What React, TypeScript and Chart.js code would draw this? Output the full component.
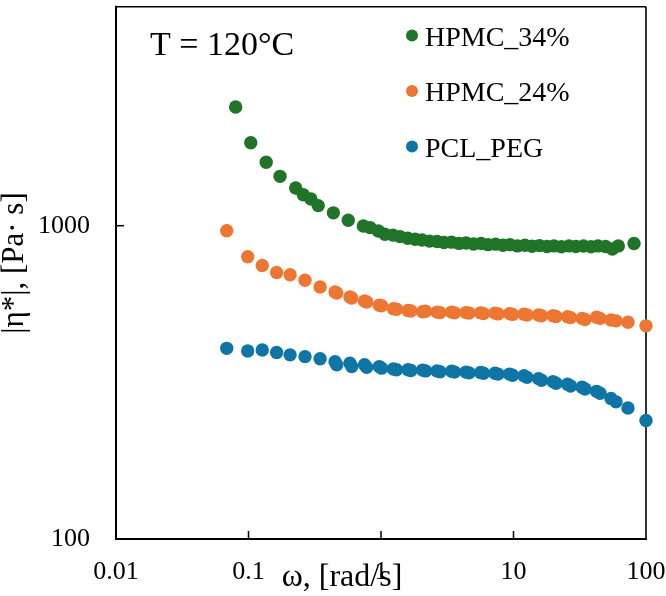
import { useEffect, useRef } from 'react';
import { Chart, registerables } from 'chart.js';

Chart.register(...registerables);

// Complex viscosity sweeps at 120 °C
const omegaHPMC34 = [
  0.080, 0.104, 0.136, 0.173, 0.227, 0.259, 0.296, 0.336, 0.437, 0.566, 0.736, 0.826,
  0.954, 1.07, 1.23, 1.39, 1.59, 1.81, 2.04, 2.32, 2.65, 2.99, 3.41, 3.88, 4.38, 4.99,
  5.69, 6.42, 7.32, 8.33, 9.41, 10.7, 12.2, 13.8, 15.7, 17.9, 20.2, 23.0, 26.2, 29.6,
  33.8, 38.5, 43.4, 49.5, 55.7, 61.8, 81.2,
];
const etaHPMC34 = [
  2392, 1840, 1594, 1437, 1319, 1256, 1217, 1159, 1099, 1041, 998, 986,
  962, 939, 933, 923, 912, 905, 900, 893, 890, 884, 886, 878, 881, 874,
  878, 870, 873, 866, 870, 862, 866, 860, 864, 858, 862, 857, 862, 858,
  861, 857, 862, 858, 843, 862, 877,
];

const omegaCommon = [
  0.0685, 0.0986, 0.127, 0.163, 0.206, 0.267, 0.347, 0.450, 0.463, 0.583, 0.601, 0.751,
  0.780, 0.971, 1.01, 1.24, 1.31, 1.60, 1.68, 2.06, 2.17, 2.65, 2.79, 3.41, 3.59, 4.38,
  4.62, 5.64, 5.94, 7.25, 7.64, 9.33, 9.83, 12.0, 12.65, 15.45, 16.27, 19.87, 20.93,
  25.56, 26.93, 32.89, 34.64, 42.3, 44.96, 54.4, 59.37, 73.1, 100,
];
const etaHPMC24 = [
  964, 796, 746, 709, 697, 670, 637, 614, 610, 592, 588, 575,
  571, 557, 555, 543, 541, 536, 534, 531, 533, 530, 528, 530, 527, 528,
  526, 527, 524, 526, 523, 524, 521, 522, 519, 519, 516, 516, 513,
  512, 509, 506, 502, 510, 506, 500, 497, 492, 479,
];
const etaPCLPEG = [
  406, 398, 401, 394, 387, 382, 376, 368, 360, 364, 355, 360,
  353, 355, 351, 349, 347, 347, 345, 346, 344, 344, 342, 343, 341, 341,
  339, 340, 338, 338, 336, 336, 333, 332, 328, 325, 321, 318, 314,
  312, 308, 305, 301, 296, 292, 281, 274, 262, 239,
];

const seriesNames = ['HPMC_34%', 'HPMC_24%', 'PCL_PEG'];
const seriesColors = ['#1f7428', '#ed7632', '#0f75a5'];

const xMajorTicks = [0.01, 0.1, 1, 10, 100];
const xTickLabels = ['0.01', '0.1', '1', '10', '100'];
const yMajorTicks = [100, 1000];
const yTickLabels = ['100', '1000'];

const xAxisTitle = 'ω, [rad/s]';
const yAxisTitle = '|η*|, [Pa· s]';
const annotation = 'T = 120°C';

const SERIF = "'Liberation Serif', 'Times New Roman', serif";

const majorIndex = (v: number, majors: number[]) =>
  majors.findIndex((m) => Math.abs(v - m) / m < 1e-6);

const toPoints = (xs: number[], ys: number[]) => xs.map((x, i) => ({ x, y: ys[i] }));

// Frame with inward tick marks on the left and bottom axes
const framePlugin = {
  id: 'frameTicks',
  beforeDatasetsDraw(chart: any) {
    const { ctx, chartArea: a, scales } = chart;
    ctx.save();
    ctx.strokeStyle = '#000';
    ctx.lineCap = 'butt';
    const seg = (x1: number, y1: number, x2: number, y2: number) => {
      ctx.beginPath();
      ctx.moveTo(x1, y1);
      ctx.lineTo(x2, y2);
      ctx.stroke();
    };
    ctx.lineWidth = 1.5;
    const xs = scales.x;
    for (const t of xs.ticks) {
      const px = xs.getPixelForValue(t.value);
      if (px <= a.left + 1 || px >= a.right - 1) continue;
      const len = majorIndex(t.value, xMajorTicks) >= 0 ? 8 : 6;
      seg(px, a.bottom, px, a.bottom - len);
    }
    const ys = scales.y;
    for (const t of ys.ticks) {
      const py = ys.getPixelForValue(t.value);
      if (py <= a.top + 1 || py >= a.bottom - 1) continue;
      const len = majorIndex(t.value, yMajorTicks) >= 0 ? 8 : 6;
      seg(a.left, py, a.left + len, py);
    }
    ctx.lineWidth = 1.6;
    seg(a.left, a.top, a.right, a.top);
    seg(a.right, a.top, a.right, a.bottom);
    ctx.lineWidth = 2;
    seg(a.left, a.top - 1, a.left, a.bottom + 1);
    seg(a.left - 1, a.bottom, a.right + 1, a.bottom);
    ctx.restore();
  },
};

// Axis titles, temperature note and legend
const textPlugin = {
  id: 'textLayer',
  afterDraw(chart: any) {
    const { ctx } = chart;
    ctx.save();
    ctx.fillStyle = '#000';
    ctx.textBaseline = 'alphabetic';

    ctx.font = `34px ${SERIF}`;
    ctx.textAlign = 'left';
    ctx.fillText(annotation, 150, 55);

    ctx.font = `28px ${SERIF}`;
    chart.data.datasets.forEach((ds: any, i: number) => {
      const cy = 35.5 + i * 55.5;
      ctx.fillStyle = ds.backgroundColor;
      ctx.beginPath();
      ctx.arc(412, cy, 6, 0, Math.PI * 2);
      ctx.fill();
      ctx.fillStyle = '#000';
      ctx.fillText(ds.label, 425, cy + 10);
    });

    ctx.font = `32px ${SERIF}`;
    ctx.textAlign = 'center';
    ctx.fillText(xAxisTitle, 342, 586);

    ctx.font = `31px ${SERIF}`;
    ctx.translate(23, 263);
    ctx.rotate(-Math.PI / 2);
    ctx.fillText(yAxisTitle, 0, 0);
    ctx.restore();
  },
};

export default function App() {
  const canvasRef = useRef<HTMLCanvasElement>(null);

  useEffect(() => {
    if (!canvasRef.current) return;
    const ys = [etaHPMC34, etaHPMC24, etaPCLPEG];
    const xs = [omegaHPMC34, omegaCommon, omegaCommon];
    const chart = new Chart(canvasRef.current, {
      type: 'scatter',
      data: {
        datasets: seriesNames.map((name, i) => ({
          label: name,
          data: toPoints(xs[i], ys[i]),
          backgroundColor: seriesColors[i],
          borderColor: seriesColors[i],
          borderWidth: 0,
          pointRadius: 6.7,
          pointHoverRadius: 6.7,
          clip: false as any,
        })),
      },
      options: {
        animation: false,
        responsive: true,
        maintainAspectRatio: false,
        layout: { padding: { top: 2, right: 20, left: 0, bottom: 0 } },
        plugins: {
          legend: { display: false },
          tooltip: { enabled: false },
          title: { display: false },
        },
        scales: {
          x: {
            type: 'logarithmic',
            min: 0.01,
            max: 100,
            grid: { display: false, drawTicks: false },
            border: { display: false },
            ticks: {
              autoSkip: false,
              maxRotation: 0,
              padding: 18,
              color: '#000',
              font: { family: SERIF, size: 26 },
              callback: (v: any) => {
                const k = majorIndex(Number(v), xMajorTicks);
                return k >= 0 ? xTickLabels[k] : null;
              },
            },
            afterFit: (s: any) => {
              s.height = 57;
              s.paddingLeft = 0;
              s.paddingRight = 0;
            },
          },
          y: {
            type: 'logarithmic',
            min: 100,
            max: 5000,
            grid: { display: false, drawTicks: false },
            border: { display: false },
            ticks: {
              autoSkip: false,
              padding: 26,
              color: '#000',
              font: { family: SERIF, size: 26 },
              callback: (v: any) => {
                const k = majorIndex(Number(v), yMajorTicks);
                return k >= 0 ? yTickLabels[k] : null;
              },
            },
            afterFit: (s: any) => {
              s.width = 116;
              s.paddingTop = 0;
              s.paddingBottom = 0;
            },
          },
        },
      },
      plugins: [framePlugin, textPlugin],
    });
    return () => chart.destroy();
  }, []);

  return (
    <div style={{ position: 'absolute', left: 0, top: 0, width: 666, height: 596, background: '#fff' }}>
      <canvas ref={canvasRef} />
    </div>
  );
}
